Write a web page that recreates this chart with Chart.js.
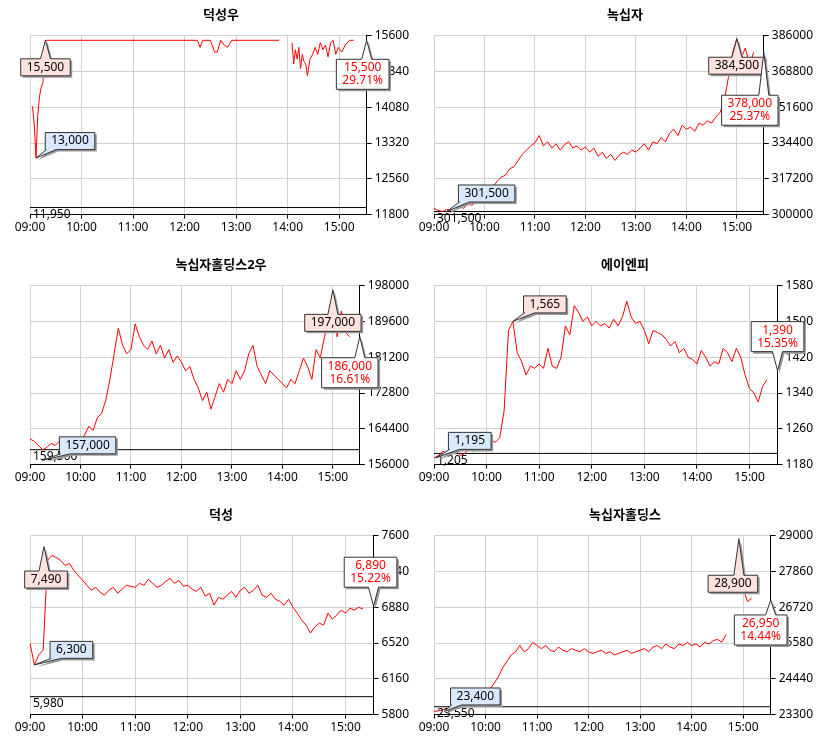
<!DOCTYPE html>
<html>
<head>
<meta charset="utf-8">
<script src="https://cdn.jsdelivr.net/npm/chart.js@4"></script>
<style>
  body { margin: 0; background: #fff; overflow: hidden; }
  canvas { position: absolute; }
</style>
</head>
<body>
<canvas id="c1" style="left:0;top:0" width="416" height="245"></canvas>
<canvas id="c2" style="left:404px;top:0" width="416" height="245"></canvas>
<canvas id="c3" style="left:0;top:250px" width="416" height="245"></canvas>
<canvas id="c4" style="left:404px;top:250px" width="416" height="245"></canvas>
<canvas id="c5" style="left:0;top:500px" width="416" height="245"></canvas>
<canvas id="c6" style="left:404px;top:500px" width="416" height="245"></canvas>
<script>
// minutes after 09:00
const grid5 = Array.from({ length: 77 }, (_, i) => i * 5);

// 덕성우
const times1 = [3,5,7,9,11,13,15,17,18,60,120,195,198,201,210,215,218,222,226,230,235,240,290,297,305,307,309,311,313,315,317,319,321,323,326,329,332,335,338,341,344,347,350,353,356,359,363,367,372,377];
const prices1 = [14100,13700,13000,13900,14300,14500,14600,15200,15500,15500,15500,15500,15350,15500,15500,15250,15250,15500,15400,15350,15500,15500,15500,null,15450,15000,15300,15100,15350,14900,15200,15050,15000,14750,15100,15200,15350,15200,15450,15300,15400,15150,15450,15500,15200,15350,15250,15400,15500,15500];

// 녹십자
const prices2 = [303000,302000,301500,302500,302000,303500,304000,303000,305000,304500,306000,307000,309000,
  311000,313000,316000,318000,319000,322000,323000,326000,329000,331000,333000,334500,
  338000,333000,335000,332000,334000,331000,333500,335000,332000,333000,331000,332500,
  330000,332000,328000,330000,327000,329000,326000,328500,330000,329000,331000,330000,
  332000,334000,331000,335000,334000,337000,335000,339000,341000,338000,343000,341000,
  342000,340000,344000,343000,345000,344000,347000,349000,355000,366000,378000,384500,
  375000,380000,372000,378000];

// 녹십자홀딩스2우
const prices3 = [162000,161500,160500,159500,160000,161000,160500,161500,160000,161000,160500,161000,161500,
  163000,165000,164000,167000,168000,171000,176000,182000,188000,184000,182000,183000,
  189000,186000,184000,183000,185000,182000,184000,181000,183000,180000,181500,180000,
  178000,179000,176000,174000,171000,173000,169000,172000,175000,173000,176000,175000,
  178000,176000,178000,182000,184000,179000,177000,175000,178000,177000,176000,175000,
  174000,176000,175000,178000,181000,179000,176000,183000,181000,186000,190000,196000,
  186000,192000,187000,186000];

// 에이엔피
const prices4 = [1195,1200,1210,1205,1215,1210,1200,1205,1215,1210,1225,1215,1230,
  1235,1230,1240,1300,1480,1500,1430,1410,1380,1400,1395,1405,
  1395,1440,1400,1395,1420,1490,1470,1535,1520,1500,1510,1490,
  1500,1490,1495,1485,1505,1490,1510,1545,1510,1495,1500,1480,
  1450,1480,1475,1470,1460,1445,1455,1430,1440,1420,1415,1405,
  1435,1420,1400,1410,1405,1440,1430,1410,1440,1420,1380,1350,
  1340,1320,1355,1370];

// 덕성
const prices5 = [6520,6300,6400,6450,7350,7400,7380,7350,7300,7320,7250,7200,7150,
  7100,7050,7080,7030,7000,7050,7080,7020,7060,7100,7090,7080,
  7120,7100,7160,7120,7080,7100,7140,7170,7120,7150,7090,7100,
  7060,7040,7080,6990,7020,6900,6980,6960,7000,7040,6980,7050,
  7080,7020,7050,7100,7000,6980,7020,6960,6940,6900,6960,6880,
  6820,6750,6700,6620,6680,6720,6700,6820,6760,6800,6850,6820,
  6870,6850,6880,6860];

// 녹십자홀딩스
const prices6 = [23400,23420,23450,23500,23480,23550,23600,23650,23700,23750,23800,23900,24000,
  24100,24300,24500,24800,25000,25200,25300,25500,25300,25400,25600,25500,
  25400,25500,25350,25300,25450,25350,25300,25400,25350,25300,25400,25300,
  25250,25300,25350,25250,25300,25200,25250,25300,25350,25250,25300,25350,
  25400,25300,25450,25500,25400,25550,25450,25400,25550,25500,25600,25500,
  25550,25450,25600,25550,25650,25700,25600,25850,null,27200,28700,27300,
  26900,27000,null,null];

const titles = ['덕성우', '녹십자', '녹십자홀딩스2우', '에이엔피', '덕성', '녹십자홀딩스'];
const yMins = [11800, 300000, 156000, 1180, 5800, 23300];
const yMaxs = [15600, 386000, 198000, 1580, 7600, 29000];
const ySteps = [760, 17200, 8400, 80, 360, 1140];
const basePrices = [11950, 301500, 159500, 1205, 5980, 23550];
const highLabels = ['15,500', '384,500', '197,000', '1,565', '7,490', '28,900'];
const lowLabels = ['13,000', '301,500', '157,000', '1,195', '6,300', '23,400'];
const lastLabels = ['15,500', '378,000', '186,000', '1,390', '6,890', '26,950'];
const lastPcts = ['29.71%', '25.37%', '16.61%', '15.35%', '15.22%', '14.44%'];
// [t, value] that each callout points at
const highPoints = [[18, 15500], [360, 384500], [360, 197000], [90, 1500], [16, 7490], [355, 28900]];
const lowPoints = [[7, 13000], [15, 301500], [15, 157000], [2, 1195], [5, 6300], [12, 23400]];
const lastValues = [15500, 378000, 186000, 1390, 6890, 26950];

const X_MAX = 392;
const font = '"Noto Sans", "Noto Sans CJK KR", sans-serif';

// box offsets in px from the tip: [dx, dy]
const highOff = [[0, 27], [0, 27], [0, 33], [32, -17], [2, 33], [-6, 45]];
const lowOff = [[34, -17], [40, -18], [45, -15], [34, -17], [37, -15], [31, -15]];
const lastOff = [[-4, 34], [-14, 58], [-10, 36], [0, -34], [-3, -34], [-10, 30]];

function drawCallout(ctx, tipX, tipY, dx, dy, lines, fill, color) {
  ctx.save();
  ctx.font = '12px ' + font;
  const w = Math.max(...lines.map(s => ctx.measureText(s).width)) + 12;
  const h = lines.length * 13 + 4;
  const cx = tipX + dx, cy = tipY + dy;
  const l = cx - w / 2, r = cx + w / 2, t = cy - h / 2, b = cy + h / 2;
  const bx = Math.min(Math.max(tipX, l + 6), r - 6);
  const pts = [];
  if (tipY < t) {
    pts.push([l, t], [bx - 5, t], [tipX, tipY], [bx + 5, t], [r, t], [r, b], [l, b]);
  } else if (tipY > b) {
    pts.push([l, t], [r, t], [r, b], [bx + 5, b], [tipX, tipY], [bx - 5, b], [l, b]);
  } else {
    pts.push([l, t], [r, t], [r, b], [l, b]);
  }
  const path = (ox, oy) => {
    ctx.beginPath();
    pts.forEach((p, i) => i ? ctx.lineTo(p[0] + ox, p[1] + oy) : ctx.moveTo(p[0] + ox, p[1] + oy));
    ctx.closePath();
  };
  path(2, 2);
  ctx.fillStyle = '#999';
  ctx.fill();
  path(0, 0);
  ctx.fillStyle = fill;
  ctx.fill();
  ctx.strokeStyle = '#333';
  ctx.lineWidth = 1;
  ctx.stroke();
  ctx.fillStyle = color;
  ctx.textAlign = 'center';
  ctx.textBaseline = 'middle';
  lines.forEach((s, i) => ctx.fillText(s, cx, t + 8.5 + i * 13));
  ctx.restore();
}

const calloutPlugin = {
  id: 'callouts',
  afterDatasetsDraw(chart) {
    const i = chart.options.plugins.callouts.idx;
    const { ctx, scales: { x, y }, chartArea } = chart;
    // base price label
    ctx.save();
    ctx.font = '12px ' + font;
    ctx.fillStyle = '#000';
    ctx.textBaseline = 'top';
    ctx.fillText(basePrices[i].toLocaleString('en-US'), chartArea.left + 3, y.getPixelForValue(basePrices[i]) + 1);
    ctx.restore();
    const hp = highPoints[i], lp = lowPoints[i];
    drawCallout(ctx, x.getPixelForValue(hp[0]), y.getPixelForValue(hp[1]), highOff[i][0], highOff[i][1], [highLabels[i]], '#fde2de', '#000');
    drawCallout(ctx, x.getPixelForValue(lp[0]), y.getPixelForValue(lp[1]), lowOff[i][0], lowOff[i][1], [lowLabels[i]], '#d8e9fb', '#000');
    drawCallout(ctx, chartArea.right, y.getPixelForValue(lastValues[i]), lastOff[i][0], lastOff[i][1], [lastLabels[i], lastPcts[i]], '#fff', '#f00');
  }
};

function makeChart(i, times, prices) {
  const pts = times.map((t, k) => ({ x: t, y: prices[k] }));
  new Chart(document.getElementById('c' + (i + 1)), {
    type: 'line',
    data: {
      datasets: [{
        data: pts,
        borderColor: '#ff0000',
        borderWidth: 1,
        pointRadius: 0,
        spanGaps: false
      }, {
        data: [{ x: 0, y: basePrices[i] }, { x: X_MAX, y: basePrices[i] }],
        borderColor: '#000',
        borderWidth: 1,
        pointRadius: 0
      }]
    },
    options: {
      responsive: false,
      animation: false,
      layout: { padding: { left: 30, right: 4, top: 0, bottom: 8 } },
      plugins: {
        legend: { display: false },
        tooltip: { enabled: false },
        title: { display: true, text: titles[i], color: '#000', font: { family: font, size: 13, weight: 'bold' }, padding: { top: 7, bottom: 13 } },
        callouts: { idx: i }
      },
      scales: {
        x: {
          type: 'linear', min: 0, max: X_MAX,
          afterBuildTicks: s => { s.ticks = [0, 60, 120, 180, 240, 300, 360].map(v => ({ value: v })); },
          ticks: {
            autoSkip: false, maxRotation: 0, color: '#000', font: { family: font, size: 12 }, padding: 2,
            callback: v => String(9 + v / 60).padStart(2, '0') + ':00'
          },
          grid: { color: '#d0d0d0', tickLength: 4, tickColor: '#000' },
          border: { color: '#000' }
        },
        y: {
          position: 'right', min: yMins[i], max: yMaxs[i],
          ticks: { stepSize: ySteps[i], color: '#000', font: { family: font, size: 12 }, padding: 3, callback: v => String(v) },
          grid: { color: '#d0d0d0', tickLength: 5, tickColor: '#000' },
          border: { color: '#000' }
        }
      }
    },
    plugins: [calloutPlugin]
  });
}

makeChart(0, times1, prices1);
makeChart(1, grid5, prices2);
makeChart(2, grid5, prices3);
makeChart(3, grid5, prices4);
makeChart(4, grid5, prices5);
makeChart(5, grid5, prices6);
</script>
</body>
</html>
